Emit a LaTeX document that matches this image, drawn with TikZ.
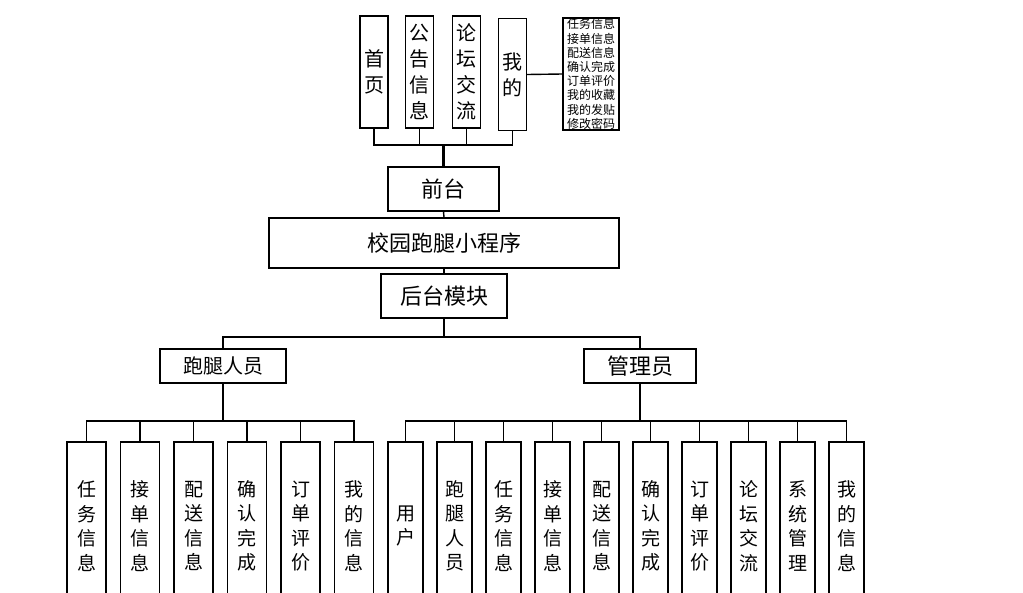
\documentclass[tikz,border=0pt]{standalone}
\usepackage{fontspec}
\setmainfont{Noto Sans CJK SC}
\usepackage{tikz}
\usetikzlibrary{positioning}

\begin{document}
\begin{tikzpicture}[
  x=1pt, y=-1pt,
  every node/.style = {font=\fontsize{20}{26}\selectfont},
  % node styles
  topcol/.style  = {rectangle, draw, line width=1.4pt, inner sep=0pt,
                    minimum width=28pt, minimum height=112pt, align=center},
  menu/.style    = {rectangle, draw, line width=1.4pt, inner sep=0pt,
                    minimum width=56pt, minimum height=112pt, align=center,
                    font=\fontsize{12}{14.2}\selectfont},
  wide/.style    = {rectangle, draw, line width=1.4pt, inner sep=0pt,
                    minimum height=44pt, align=center,
                    font=\fontsize{22}{26}\selectfont},
  role/.style    = {rectangle, draw, line width=1.4pt, inner sep=0pt,
                    minimum height=34pt, align=center,
                    font=\fontsize{20}{24}\selectfont},
  leaf/.style    = {rectangle, draw, line width=1.4pt, inner sep=0pt,
                    minimum width=39pt, minimum height=168pt, align=center,
                    font=\fontsize{19}{24.5}\selectfont},
  leafr/.style   = {leaf, minimum width=35pt},
  % line styles
  conn/.style    = {line width=1.4pt},
  trunk/.style   = {line width=2.6pt},
]

\clip (0,0) rectangle (1023,592);
\fill[white] (0,0) rectangle (1023,592);

%% Front-end pages
\node[topcol] (home)   at (374,72)   {首\\页};
\node[topcol] (notice) at (419.5,72) {公\\告\\信\\息};
\node[topcol] (forum)  at (466.5,72) {论\\坛\\交\\流};
\node[topcol] (mine)   at (512.5,74.5) {我\\的};
\node[menu]   (minelist) at (591,74)
  {任务信息\\接单信息\\配送信息\\确认完成\\订单评价\\我的收藏\\我的发贴\\修改密码};

%% Centre column
\node[wide, minimum width=111pt] (front) at (443.5,189) {前台};
\node[wide, minimum width=350pt, minimum height=50pt] (app) at (444,243) {校园跑腿小程序};
\node[wide, minimum width=126pt] (back)  at (444,296) {后台模块};

%% Roles
\node[role, minimum width=126pt] (runner) at (223,366) {跑腿人员};
\node[role, minimum width=112pt, font=\fontsize{22}{26}\selectfont] (admin) at (640,366) {管理员};

%% Runner functions
\node[leaf] (rTask)  at (86.5,526)  {任\\务\\信\\息};
\node[leaf] (rTake)  at (140,526)   {接\\单\\信\\息};
\node[leaf] (rSend)  at (193.5,526) {配\\送\\信\\息};
\node[leaf] (rDone)  at (247,526)   {确\\认\\完\\成};
\node[leaf] (rRate)  at (300.5,526) {订\\单\\评\\价};
\node[leaf] (rMine)  at (354,526)   {我\\的\\信\\息};

%% Admin functions
\node[leafr] (aUser)   at (405.5,526) {用\\户};
\node[leafr] (aRunner) at (454.5,526) {跑\\腿\\人\\员};
\node[leafr] (aTask)   at (503.5,526) {任\\务\\信\\息};
\node[leafr] (aTake)   at (552.5,526) {接\\单\\信\\息};
\node[leafr] (aSend)   at (601.5,526) {配\\送\\信\\息};
\node[leafr] (aDone)   at (650.5,526) {确\\认\\完\\成};
\node[leafr] (aRate)   at (699.5,526) {订\\单\\评\\价};
\node[leafr] (aForum)  at (748.5,526) {论\\坛\\交\\流};
\node[leafr] (aSys)    at (797.5,526) {系\\统\\管\\理};
\node[leafr] (aMine)   at (846.5,526) {我\\的\\信\\息};

%% Bus junctions
\coordinate (topbus)   at (443.5,145);
\coordinate (mainbus)  at (444,337);
\coordinate (runbus)   at (223,421);
\coordinate (adminbus) at (640,421);

%% Front-end tree
\draw[conn] (home.south)   |- (topbus);
\draw[conn] (notice.south) |- (topbus);
\draw[conn] (forum.south)  |- (topbus);
\draw[conn] (mine.south)   |- (topbus);
\draw[trunk] (topbus) -- (front.north);
\draw[conn] (mine.east) -- (minelist.west);

%% Centre links
\draw[conn] (front.south) -- (app.north);
\draw[conn] (app.south)   -- (back.north);
\draw[conn] (back.south)  -- (mainbus);
\draw[conn] (runner.north) |- (mainbus);
\draw[conn] (admin.north)  |- (mainbus);

%% Runner tree
\draw[trunk] (runner.south) -- (runbus);
\draw[conn] (rTask.north) |- (runbus);
\draw[conn] (rTake.north) |- (runbus);
\draw[conn] (rSend.north) |- (runbus);
\draw[conn] (rDone.north) |- (runbus);
\draw[conn] (rRate.north) |- (runbus);
\draw[conn] (rMine.north) |- (runbus);

%% Admin tree
\draw[trunk] (admin.south) -- (adminbus);
\draw[conn] (aUser.north)   |- (adminbus);
\draw[conn] (aRunner.north) |- (adminbus);
\draw[conn] (aTask.north)   |- (adminbus);
\draw[conn] (aTake.north)   |- (adminbus);
\draw[conn] (aSend.north)   |- (adminbus);
\draw[conn] (aDone.north)   |- (adminbus);
\draw[conn] (aRate.north)   |- (adminbus);
\draw[conn] (aForum.north)  |- (adminbus);
\draw[conn] (aSys.north)    |- (adminbus);
\draw[conn] (aMine.north)   |- (adminbus);

\end{tikzpicture}
\end{document}
